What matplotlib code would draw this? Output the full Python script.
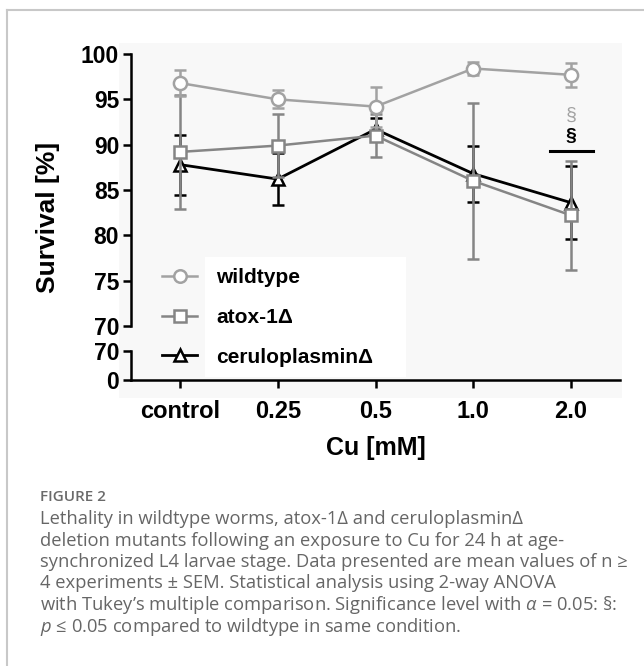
import matplotlib
matplotlib.use("Agg")
import matplotlib.pyplot as plt
from matplotlib.lines import Line2D
from matplotlib.patches import Rectangle

plt.rcParams['font.family'] = ['Liberation Sans', 'DejaVu Sans']
plt.rcParams['mathtext.fontset'] = 'custom'
plt.rcParams['mathtext.it'] = 'Open Sans:italic'
plt.rcParams['mathtext.rm'] = 'Open Sans'

# data
doses = ['control', '0.25', '0.5', '1.0', '2.0']
wt_mean = [96.8, 95.0, 94.2, 98.4, 97.7]
wt_sem = [1.4, 1.0, 2.2, 0.7, 1.3]
atox_mean = [89.2, 89.9, 91.0, 86.0, 82.2]
atox_sem = [6.3, 3.5, 2.4, 8.6, 6.0]
cp_mean = [87.8, 86.2, 91.7, 86.8, 83.6]
cp_sem = [3.3, 2.9, 1.2, 3.1, 4.0]
labels = ['wildtype', 'atox-1\u0394', 'ceruloplasmin\u0394']

c_wt = '#a2a2a2'
c_atox = '#858585'
c_cp = '#000000'

x = list(range(len(doses)))

fig = plt.figure(figsize=(6.44, 6.66), dpi=100)
W, H = 644.0, 666.0

# light panel behind the graph and the page frame
fig.add_artist(Rectangle((119 / W, 1 - 398 / H), 503 / W, 355 / H,
                         transform=fig.transFigure, facecolor='#f8f8f8',
                         edgecolor='none', zorder=-5))
fig.add_artist(Line2D([7 / W, 1], [1 - 10 / H, 1 - 10 / H], transform=fig.transFigure,
                      color='#c8c8c8', lw=1.5))
fig.add_artist(Line2D([7 / W, 7 / W], [0, 1 - 10 / H], transform=fig.transFigure,
                      color='#c8c8c8', lw=1.5))

left = 131 / W
width = 489 / W
ax = fig.add_axes([left, 1 - 326 / H, width, 272 / H])
axb = fig.add_axes([left, 1 - 380 / H, width, 29 / H])
for a in (ax, axb):
    a.set_facecolor('none')
    a.spines['top'].set_visible(False)
    a.spines['right'].set_visible(False)
    a.spines['left'].set_linewidth(1.8)
    a.spines['bottom'].set_linewidth(1.8)
    a.tick_params(width=1.8, length=5.5, labelsize=16.5, pad=3)
    a.set_xlim(-0.5, 4.5)

ax.spines['bottom'].set_visible(False)
ax.set_ylim(70, 100)
ax.set_yticks([70, 75, 80, 85, 90, 95, 100])
ax.set_xticks([])
axb.set_ylim(0, 70)
axb.set_yticks([0, 70])
axb.set_xticks(x)
axb.set_xticklabels(doses)
axb.tick_params(axis='x', pad=9, labelsize=17)
for a in (ax, axb):
    for t in a.get_yticklabels() + a.get_xticklabels():
        t.set_fontweight('bold')

ax.errorbar(x, cp_mean, yerr=cp_sem, fmt='-^', color=c_cp, mfc='white', mec=c_cp,
            ms=9, mew=1.8, lw=2.0, elinewidth=1.8, capsize=4.5, capthick=2.4,
            zorder=2, clip_on=False)
ax.errorbar(x, atox_mean, yerr=atox_sem, fmt='-s', color=c_atox, mfc='white', mec=c_atox,
            ms=9, mew=1.8, lw=1.8, elinewidth=1.8, capsize=4.5, capthick=1.8,
            zorder=3, clip_on=False)
ax.errorbar(x, wt_mean, yerr=wt_sem, fmt='-o', color=c_wt, mfc='white', mec=c_wt,
            ms=9.5, mew=1.8, lw=1.8, elinewidth=1.8, capsize=4.5, capthick=1.8,
            zorder=4, clip_on=False)

# significance marks at 2.0 mM
ax.plot([3.78, 4.22], [89.3, 89.3], color='black', lw=2.2)
ax.text(4, 90.9, '\u00a7', ha='center', va='center', fontsize=14, fontweight='bold', color='black')
ax.text(4, 93.2, '\u00a7', ha='center', va='center', fontsize=14, color=c_wt)

ax.set_ylabel('Survival [%]', fontsize=19, fontweight='bold')
ax.yaxis.set_label_coords(-0.145, 0.40)
axb.set_xlabel('Cu [mM]', fontsize=18, fontweight='bold', labelpad=9)

# legend: white box behind the texts only
fig.add_artist(Rectangle((205 / W, 1 - 377 / H), 201 / W, 120 / H,
                         transform=fig.transFigure, facecolor='white',
                         edgecolor='none', zorder=1))
handles = [
    Line2D([], [], color=c_wt, marker='o', mfc='white', mec=c_wt, ms=9, mew=1.8, lw=1.8),
    Line2D([], [], color=c_atox, marker='s', mfc='white', mec=c_atox, ms=9, mew=1.8, lw=1.8),
    Line2D([], [], color=c_cp, marker='^', mfc='white', mec=c_cp, ms=9, mew=1.8, lw=2.0),
]
leg = fig.legend(handles, labels, loc='upper left', bbox_to_anchor=(162 / W, 1 - 268 / H),
                 frameon=False, handlelength=1.7, handletextpad=0.9,
                 labelspacing=1.0, borderpad=0, borderaxespad=0,
                 prop={'weight': 'bold', 'size': 15})
leg.set_zorder(5)

# caption
cap_x = 40 / W
fig.text(cap_x, 1 - 497 / H, 'FIGURE 2', fontsize=11, color='#6a6a6a',
         family=['Open Sans', 'DejaVu Sans'], fontweight='semibold', va='center')
caption = [
    'Lethality in wildtype worms, atox-1\u0394 and ceruloplasmin\u0394',
    'deletion mutants following an exposure to Cu for 24 h at age-',
    'synchronized L4 larvae stage. Data presented are mean values of n \u2265',
    '4 experiments \u00b1 SEM. Statistical analysis using 2-way ANOVA',
    'with Tukey\u2019s multiple comparison. Significance level with $\\alpha$ = 0.05: \u00a7:',
    '$p$ \u2264 0.05 compared to wildtype in same condition.',
]
for i, line in enumerate(caption):
    fig.text(cap_x, 1 - (519 + 21.5 * i) / H, line, fontsize=13.2, color='#666666',
             family=['Open Sans', 'DejaVu Sans'], va='center')

fig.savefig('out.png', dpi=100, facecolor='white')
